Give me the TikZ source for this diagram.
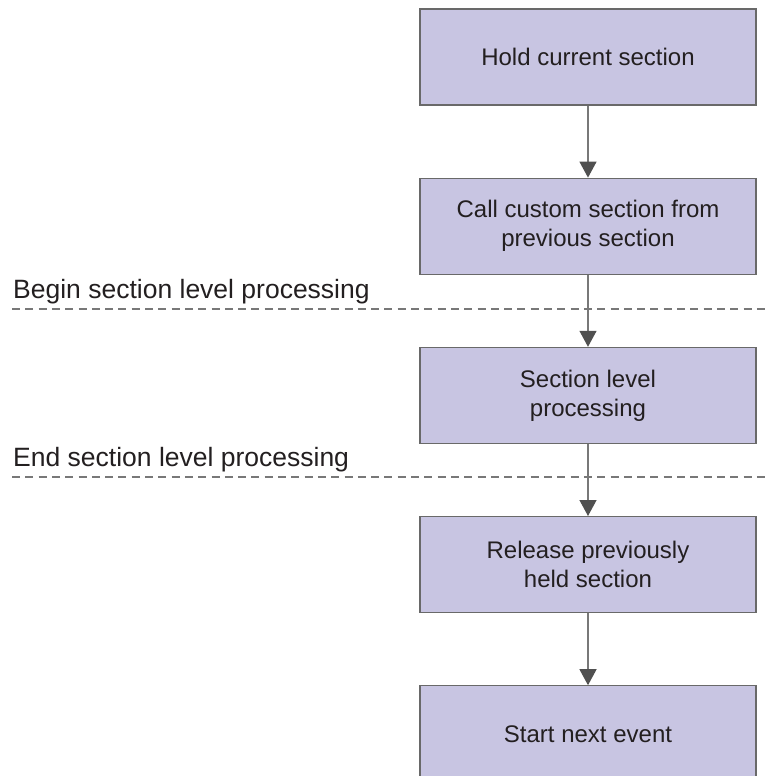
\documentclass[tikz,border=0pt]{standalone}
\usepackage{fontspec}
\setmainfont{Liberation Sans}
\usepackage{xcolor}
\usepackage{tikz}
\usetikzlibrary{arrows.meta,positioning}
\definecolor{lavender}{RGB}{200,197,226}
\definecolor{edgegray}{RGB}{105,105,105}
\definecolor{linegray}{RGB}{120,120,120}
\definecolor{headgray}{RGB}{80,80,80}
\definecolor{inkdark}{RGB}{35,31,32}

\begin{document}
\begin{tikzpicture}[
    x=1pt, y=1pt,
    node distance=72pt,
    flowbox/.style={draw=edgegray, line width=1.2pt, fill=lavender, minimum width=336pt, minimum height=96pt, align=center, text=inkdark, font=\fontsize{24}{29}\selectfont},
    arr/.style={-{Triangle[length=16pt,width=17pt,color=headgray]}, draw=linegray, line width=1.3pt},
    phase/.style={draw=linegray, line width=1.2pt, dash pattern=on 8pt off 5.3pt},
    phaselabel/.style={anchor=base west, inner sep=0pt, text=inkdark, font=\fontsize{26.5}{30}\selectfont}
]
\useasboundingbox (0,0) rectangle (769,-776);

\node[flowbox] (hold) at (588,-57) {Hold current section};
\node[flowbox, below=of hold] (call) {Call custom section from\\previous section};
\node[flowbox, below=of call] (level) {Section level\\processing};
\node[flowbox, below=of level] (release) {Release previously\\held section};
\node[flowbox, below=of release] (next) {Start next event};

% phase markers
\coordinate (beginW) at (12,-309);
\coordinate (beginE) at (769,-309);
\coordinate (endW) at (12,-477);
\coordinate (endE) at (769,-477);
\draw[phase] (beginW) -- (beginE);
\draw[phase] (endW) -- (endE);
\node[phaselabel] (beginlbl) at (13,-298) {Begin section level processing};
\node[phaselabel] (endlbl) at (13,-466) {End section level processing};

\draw[arr] (hold) -- (call);
\draw[arr] (call) -- (level);
\draw[arr] (level) -- (release);
\draw[arr] (release) -- (next);
\end{tikzpicture}
\end{document}
